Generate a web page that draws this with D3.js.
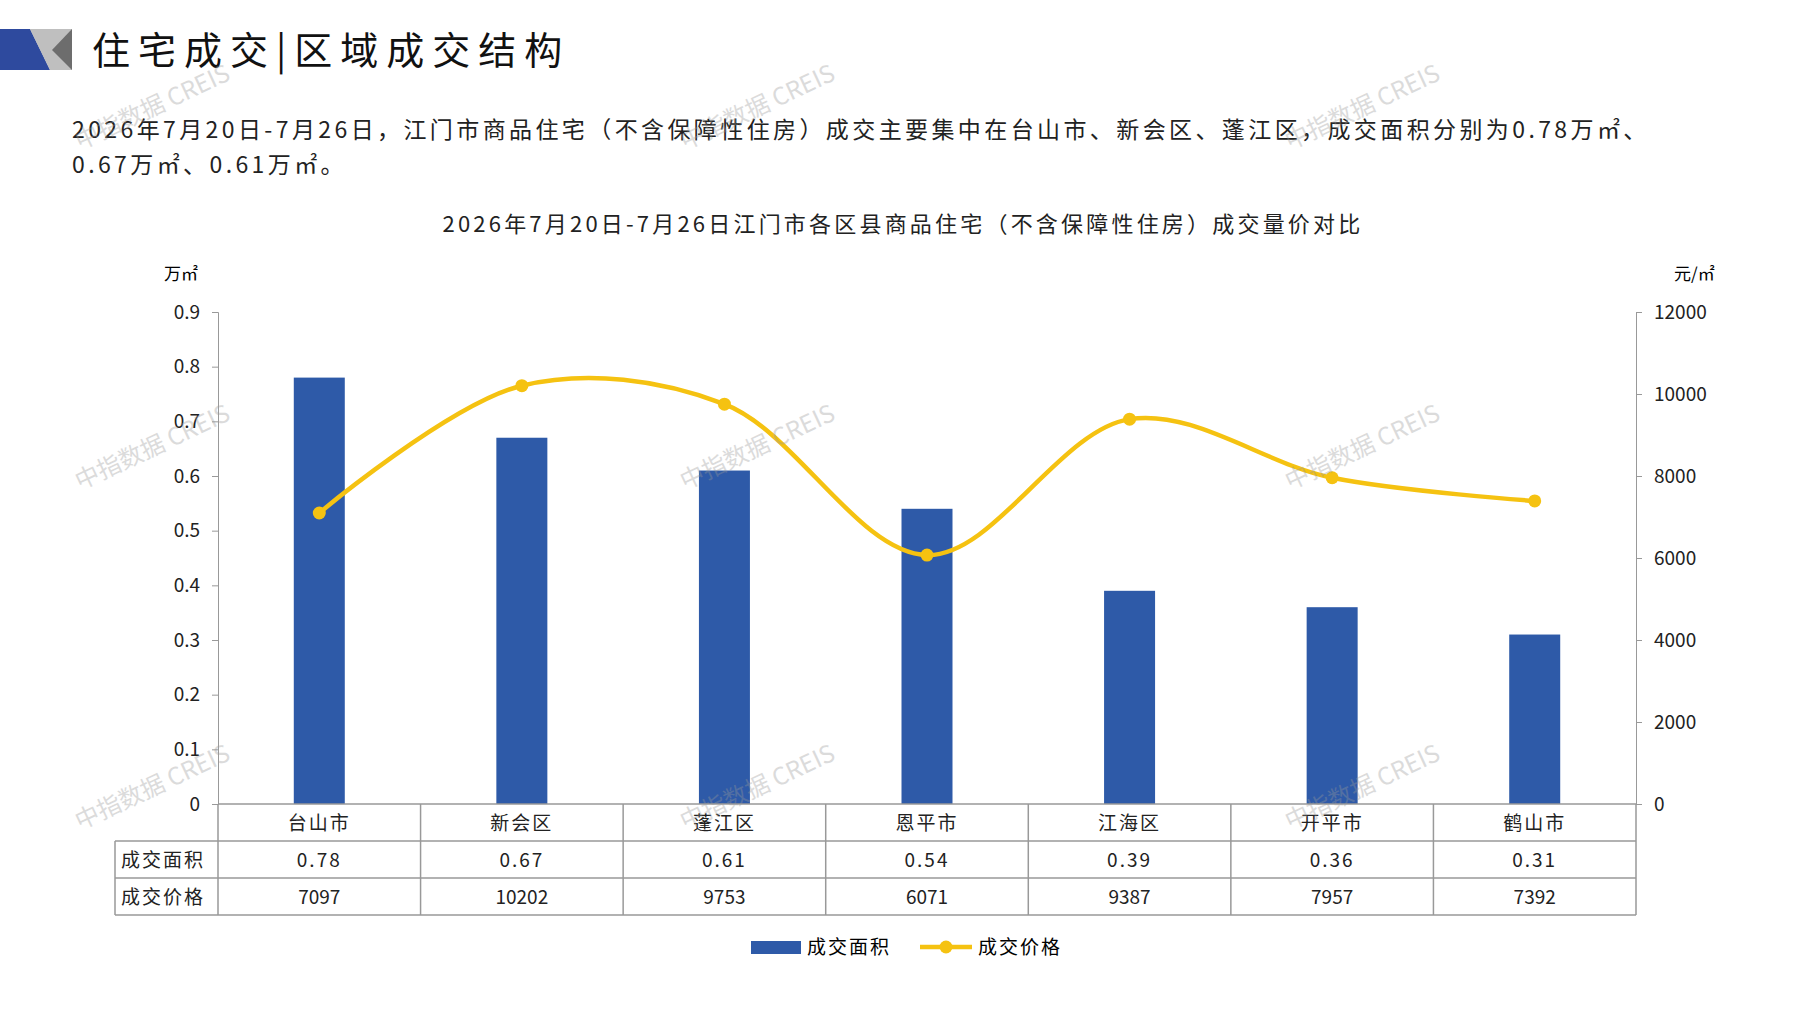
<!DOCTYPE html>
<html><head><meta charset="utf-8">
<script src="https://cdn.jsdelivr.net/npm/d3@7.9.0/dist/d3.min.js"></script>
<style>
body{margin:0;background:#fff;font-family:"Noto Sans CJK SC","Noto Sans",sans-serif;}
</style></head><body>
<svg id="c" width="1797" height="1010"></svg>
<script>
const districts = ['台山市','新会区','蓬江区','恩平市','江海区','开平市','鹤山市'];
const area = [0.78,0.67,0.61,0.54,0.39,0.36,0.31];
const price = [7097,10202,9753,6071,9387,7957,7392];
const leftTicks = [0,0.1,0.2,0.3,0.4,0.5,0.6,0.7,0.8,0.9];
const rightTicks = [0,2000,4000,6000,8000,10000,12000];

const svg = d3.select('#c');
const L = 218, R = 1636, T = 312, B = 804;
const blue = '#2E5AA8', gold = '#F5C211', grid = '#999';

// header decoration
svg.append('polygon').attr('points','0,29 72,29 72,70 0,70').attr('fill','#d9d9d9');
svg.append('polygon').attr('points','0,29 30,29 50,70 0,70').attr('fill','#2E4A9E');
svg.append('polygon').attr('points','30,29 72,29 72,70 50,70').attr('fill','#bfbfbf');
svg.append('polygon').attr('points','52,50 72,29 72,70').attr('fill','#6d6d6d');
svg.append('text').attr('x',92).attr('y',64).attr('font-size',38).attr('letter-spacing',8).attr('fill','#111').text('住宅成交|区域成交结构');

const para = svg.append('text').attr('font-size',23).attr('letter-spacing',3.4).attr('fill','#222');
para.append('tspan').attr('x',72).attr('y',138).text('2026年7月20日-7月26日，江门市商品住宅（不含保障性住房）成交主要集中在台山市、新会区、蓬江区，成交面积分别为0.78万㎡、');
para.append('tspan').attr('x',72).attr('y',173).text('0.67万㎡、0.61万㎡。');

svg.append('text').attr('x',903).attr('y',232).attr('text-anchor','middle').attr('font-size',22).attr('letter-spacing',3.2)
  .attr('fill','#222').text('2026年7月20日-7月26日江门市各区县商品住宅（不含保障性住房）成交量价对比');

const x = d3.scaleBand().domain(districts).range([L,R]);
const yL = d3.scaleLinear().domain([0,0.9]).range([B,T]);
const yR = d3.scaleLinear().domain([0,12000]).range([B,T]);

// axes
svg.append('g').attr('transform',`translate(${L},0)`)
  .call(d3.axisLeft(yL).tickValues(leftTicks).tickSize(6).tickFormat(d=>d===0?'0':d3.format('.1f')(d)))
  .call(g=>{g.select('.domain').attr('stroke',grid);g.selectAll('line').attr('stroke',grid);
    g.selectAll('text').attr('font-size',19).attr('fill','#222').attr('x',-18).attr('font-family','"Noto Sans CJK SC"');});
svg.append('g').attr('transform',`translate(${R},0)`)
  .call(d3.axisRight(yR).tickValues(rightTicks).tickSize(6).tickFormat(d3.format('d')))
  .call(g=>{g.select('.domain').attr('stroke',grid);g.selectAll('line').attr('stroke',grid);
    g.selectAll('text').attr('font-size',19).attr('fill','#222').attr('x',18).attr('font-family','"Noto Sans CJK SC"');});
svg.append('text').attr('x',164).attr('y',280).attr('font-size',17).text('万㎡');
svg.append('text').attr('x',1674).attr('y',280).attr('font-size',17).text('元/㎡');

// bars
svg.selectAll('rect.bar').data(area).join('rect').attr('class','bar')
  .attr('x',(d,i)=>x(districts[i])+x.bandwidth()/2-25.5).attr('width',51)
  .attr('y',d=>yL(d)).attr('height',d=>B-yL(d)).attr('fill',blue);

// line
const line = d3.line().x((d,i)=>x(districts[i])+x.bandwidth()/2).y(d=>yR(d)).curve(d3.curveCatmullRom.alpha(0.5));
svg.append('path').attr('d',line(price)).attr('fill','none').attr('stroke',gold).attr('stroke-width',4.5);
svg.selectAll('circle.pt').data(price).join('circle').attr('class','pt')
  .attr('cx',(d,i)=>x(districts[i])+x.bandwidth()/2).attr('cy',d=>yR(d)).attr('r',6.5).attr('fill',gold);

// table
const TL = 115, r1 = 841, r2 = 878, r3 = 915;
const tg = svg.append('g').attr('stroke',grid).attr('stroke-width',1.5);
tg.append('line').attr('x1',L).attr('x2',R).attr('y1',B).attr('y2',B);
[r1,r2,r3].forEach(y=>tg.append('line').attr('x1',TL).attr('x2',R).attr('y1',y).attr('y2',y));
tg.append('line').attr('x1',TL).attr('x2',TL).attr('y1',r1).attr('y2',r3);
districts.forEach(d=>tg.append('line').attr('x1',x(d)).attr('x2',x(d)).attr('y1',B).attr('y2',r3));
tg.append('line').attr('x1',R).attr('x2',R).attr('y1',B).attr('y2',r3);
const cell=(tx,cx,cy,anchor='middle',ls=2)=>svg.append('text').attr('x',cx).attr('y',cy).attr('text-anchor',anchor)
  .attr('font-size',19).attr('letter-spacing',ls).attr('fill','#222').text(tx);
districts.forEach((d,i)=>{
  const cx = x(d)+x.bandwidth()/2;
  cell(d,cx,r1-11); cell(d3.format('.2f')(area[i]),cx,r2-11,'middle',2); cell(price[i],cx,r3-11,'middle',0);
});
cell('成交面积',121,r2-11,'start'); cell('成交价格',121,r3-11,'start');

// legend
const ly = 947;
svg.append('rect').attr('x',751).attr('y',ly-6).attr('width',50).attr('height',13).attr('fill',blue);
svg.append('text').attr('x',807).attr('y',ly+7).attr('font-size',19).attr('letter-spacing',2).text('成交面积');
svg.append('line').attr('x1',920).attr('x2',972).attr('y1',ly).attr('y2',ly).attr('stroke',gold).attr('stroke-width',4.5);
svg.append('circle').attr('cx',946).attr('cy',ly).attr('r',6.5).attr('fill',gold);
svg.append('text').attr('x',978).attr('y',ly+7).attr('font-size',19).attr('letter-spacing',2).text('成交价格');

// watermarks
const wm=[[80,150],[685,150],[1290,150],[80,490],[685,490],[1290,490],[80,830],[685,830],[1290,830]];
wm.forEach(([a,b])=>svg.append('text').attr('transform',`translate(${a},${b}) rotate(-25)`)
  .attr('font-size',24).attr('fill','#999').attr('opacity',0.35).text('中指数据 CREIS'));
</script></body></html>
